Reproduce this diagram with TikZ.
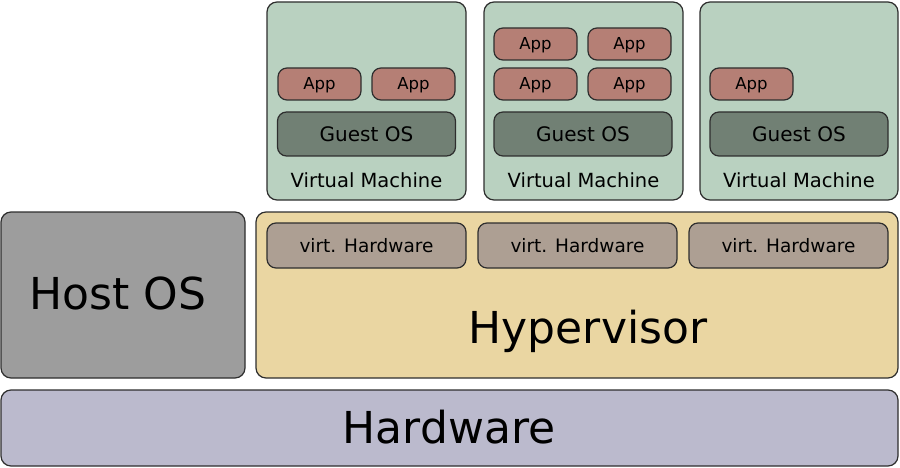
\documentclass[tikz,border=0pt]{standalone}
\usepackage{fontspec}
\setmainfont{DejaVu Sans}
\definecolor{vmfill}{HTML}{B9D1C0}
\definecolor{appfill}{HTML}{B57F75}
\definecolor{gosfill}{HTML}{718074}
\definecolor{hostfill}{HTML}{9D9D9D}
\definecolor{hypfill}{HTML}{EAD6A2}
\definecolor{vhwfill}{HTML}{AD9F93}
\definecolor{hwfill}{HTML}{BBBACD}
\definecolor{edge}{HTML}{2E2E2E}
\tikzset{
  box/.style={draw=edge, line width=1.2pt, rounded corners=#1, inner sep=0pt, text depth=0pt},
  box/.default=9pt,
  vmbox/.style={box=10pt, fill=vmfill},
  appbox/.style={box=9pt, fill=appfill, font=\fontsize{16.5}{16.5}\selectfont, text height=12pt, minimum width=83pt, minimum height=32pt},
  gosbox/.style={box=9pt, fill=gosfill, font=\fontsize{20}{20}\selectfont, text height=14.6pt, minimum width=178pt, minimum height=44pt},
  vhwbox/.style={box=9pt, fill=vhwfill, font=\fontsize{18.5}{18.5}\selectfont, text height=13.5pt, minimum width=199pt, minimum height=45pt},
  biglabel/.style={anchor=base, inner sep=0pt, font=\fontsize{44}{44}\selectfont},
  vmlabel/.style={anchor=base, inner sep=0pt, font=\fontsize{19.5}{19.5}\selectfont},
}
\begin{document}
\begin{tikzpicture}[x=1pt,y=-1pt]
\useasboundingbox (0,0) rectangle (900,468);
% virtual machines
\draw[vmbox] (267,2) rectangle (466,200);
\draw[vmbox] (484,2) rectangle (683,200);
\draw[vmbox] (700,2) rectangle (898,200);
\node[vmlabel] (vm1) at (366.5,188) {Virtual Machine};
\node[vmlabel] (vm2) at (583.5,188) {Virtual Machine};
\node[vmlabel] (vm3) at (799,188) {Virtual Machine};
% guest OS
\node[gosbox] (g1) at (366.5,134) {Guest OS};
\node[gosbox] (g2) at (583,134) {Guest OS};
\node[gosbox] (g3) at (799,134) {Guest OS};
% apps
\node[appbox] (a11) at (319.5,84) {App};
\node[appbox] (a12) at (413.5,84) {App};
\node[appbox] (a21) at (535.5,44) {App};
\node[appbox] (a22) at (629.5,44) {App};
\node[appbox] (a23) at (535.5,84) {App};
\node[appbox] (a24) at (629.5,84) {App};
\node[appbox] (a31) at (751.5,84) {App};
% host OS
\draw[box=10pt, fill=hostfill] (1,212) rectangle (245,378);
\node[biglabel] (host) at (118,309) {Host OS};
% hypervisor
\draw[box=10pt, fill=hypfill] (256,212) rectangle (898,378);
\node[biglabel] (hyp) at (588,343) {Hypervisor};
\node[vhwbox] (v1) at (366.5,245.5) {virt. Hardware};
\node[vhwbox] (v2) at (577.5,245.5) {virt. Hardware};
\node[vhwbox] (v3) at (788.5,245.5) {virt. Hardware};
% hardware
\draw[box=10pt, fill=hwfill] (1,390) rectangle (898,466);
\node[biglabel] (hw) at (449,443) {Hardware};
\end{tikzpicture}
\end{document}
